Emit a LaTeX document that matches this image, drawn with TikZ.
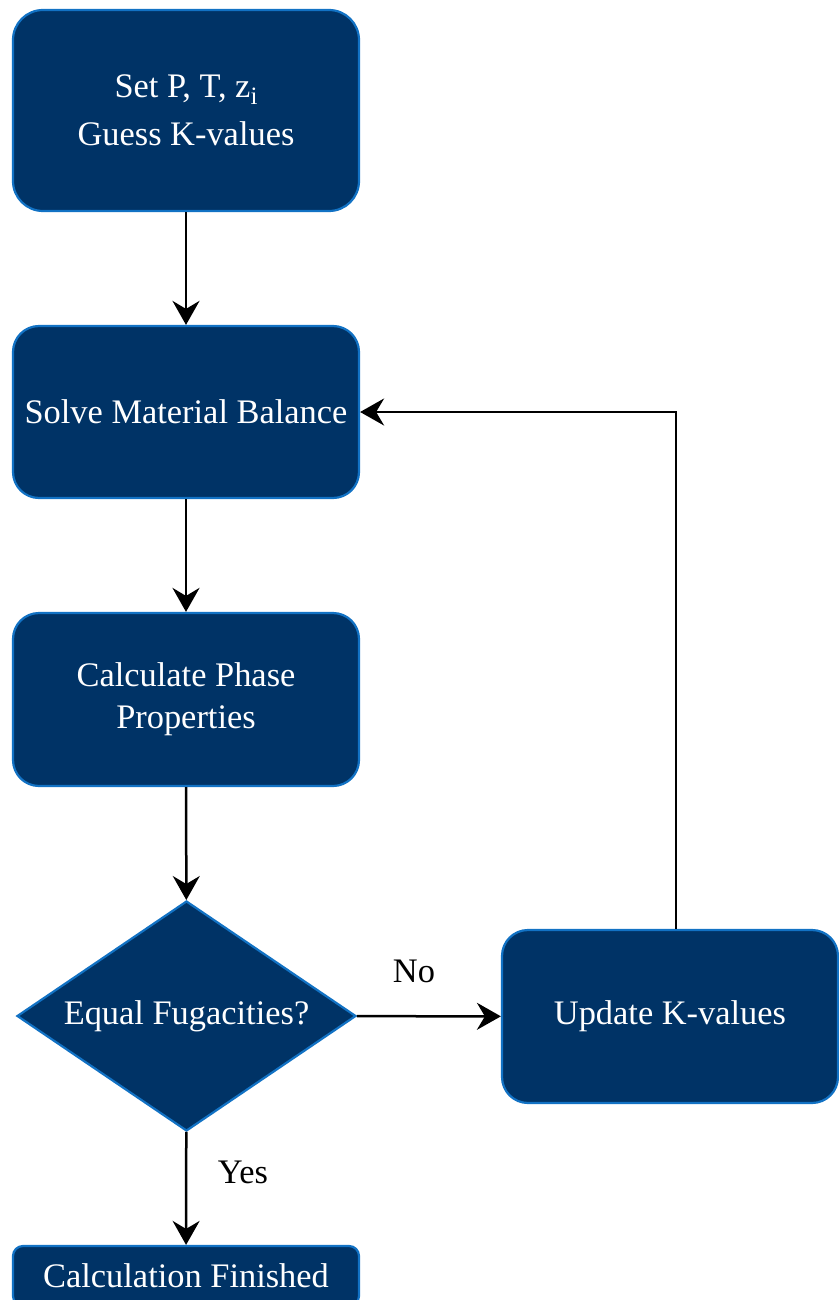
\documentclass[tikz,border=0pt]{standalone}
\usepackage{fontspec}
\setmainfont{Liberation Serif}
\usetikzlibrary{arrows.meta,shapes.geometric}
\definecolor{boxfill}{HTML}{003366}
\definecolor{boxline}{HTML}{1272C4}
\newcommand{\subi}{\raisebox{-0.45ex}{\fontsize{12.5}{12.5}\selectfont i}}
\begin{document}
\begin{tikzpicture}[x=0.5pt,y=-0.5pt,
  font=\fontsize{17.2}{21}\selectfont,
  proc/.style={draw=boxline, fill=boxfill, line width=1.1pt, text=white, align=center, inner sep=0pt},
  arr/.style={draw=black, line width=1.25pt, -{Stealth[length=12pt,width=13.5pt,inset=4pt]}},
  lbl/.style={text=black, inner sep=0pt}]
\useasboundingbox (0,0) rectangle (839,1300);
\node[proc, rounded corners=15pt, minimum width=173pt, minimum height=100.5pt] (b1) at (186,110.5) {Set P, T, z\subi\\[3pt]Guess K-values};
\node[proc, rounded corners=13pt, minimum width=173pt, minimum height=86pt] (b2) at (186,412) {Solve Material Balance};
\node[proc, rounded corners=13pt, minimum width=173pt, minimum height=86.5pt] (b3) at (186,699.5) {Calculate Phase\\Properties};
\node[proc, diamond, aspect=1.474, minimum width=169.5pt, minimum height=115pt] (d) at (186.5,1016) {Equal Fugacities?};
\node[proc, rounded corners=13pt, minimum width=168pt, minimum height=86.5pt] (upd) at (670,1016.5) {Update K-values};
\node[proc, rounded corners=5pt, minimum width=173pt, minimum height=30pt] (fin) at (186,1276) {Calculation Finished};
\draw[arr] (b1) -- (b2);
\draw[arr] (b2) -- (b3);
\draw[arr] (b3) -- (d);
\draw[arr] (d) -- (upd);
\draw[arr] (d) -- (fin);
\draw[arr] ([xshift=3pt]upd.north) |- (b2.east);
\node[lbl] (no) at (414,971) {No};
\node[lbl] (yes) at (243,1172) {Yes};
\end{tikzpicture}
\end{document}
